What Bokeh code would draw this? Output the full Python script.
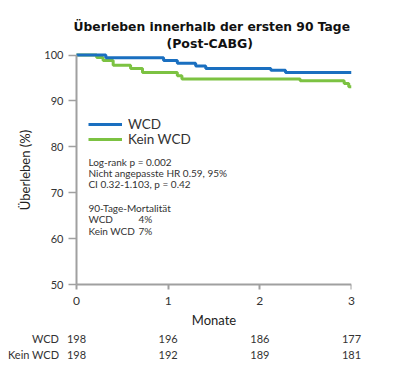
from bokeh.plotting import figure
from bokeh.models import Label, Legend, LegendItem, Range1d, FixedTicker, Title, LinearAxis
from bokeh.embed import file_html
from bokeh.resources import INLINE

# ---- data ----
wcd_t = [0, 0.32, 0.95, 1.10, 1.30, 1.41, 2.12, 2.28, 3.0]
wcd_s = [100, 99.4, 98.8, 98.2, 97.6, 97.1, 96.7, 96.2, 96.2]

kein_t = [0, 0.22, 0.29, 0.40, 0.59, 0.72, 1.10, 1.15, 2.44, 2.92, 2.97, 3.0]
kein_s = [100, 99.5, 98.8, 97.8, 97.1, 96.2, 95.5, 94.8, 94.4, 93.8, 93.1, 93.1]

x_ticks = [0, 1, 2, 3]
y_ticks = [50, 60, 70, 80, 90, 100]
x_title = "Monate"
risk_groups = ["WCD", "Kein WCD"]
risk_wcd = [198, 196, 186, 177]
risk_kein = [198, 192, 189, 181]

stats_lines = ["Log-rank p = 0.002", "Nicht angepasste HR 0.59, 95%", "CI 0.32-1.103, p = 0.42"]
mort_title = "90-Tage-Mortalität"
mort_groups = ["WCD", "Kein WCD"]
mort_values = ["4%", "7%"]

BLUE = "#1a6fc0"
GREEN = "#7cc242"
AXIS = "#a0a0a0"
TXT = "#333333"
FONT = "Lato"
TITLE_FONT = "DejaVu Sans"

PX_PER_MONTH = 275 / 3
LEFT = 12
X_MIN = -(76 - LEFT) / PX_PER_MONTH

p = figure(width=384, height=366, output_backend="svg", toolbar_location=None,
           x_range=Range1d(X_MIN, 3), y_range=Range1d(48.7, 101),
           min_border_left=LEFT, min_border_right=33, min_border_top=50, min_border_bottom=76)
p.outline_line_color = None
p.grid.visible = False

p.add_layout(Title(text="(Post-CABG)", align="left", offset=154, text_font=TITLE_FONT,
                   text_font_size="12.5px", text_font_style="bold", text_color="#111111",
                   standoff=0), "above")
p.add_layout(Title(text="Überleben innerhalb der ersten 90 Tage", align="left", offset=61,
                   text_font=TITLE_FONT, text_font_size="12.3px", text_font_style="bold",
                   text_color="#111111", standoff=0), "above")

r2 = p.step(kein_t, kein_s, mode="after", line_color=GREEN, line_width=3)
r1 = p.step(wcd_t, wcd_s, mode="after", line_color=BLUE, line_width=3)

# legend placement measured from the frame bottom (frame starts at 48.7)
leg_shift = round((50 - 48.7) * 4.589)
leg_common = dict(border_line_color=None, background_fill_alpha=0, padding=0, margin=0,
                  spacing=0, glyph_width=34, glyph_height=14, label_height=14,
                  label_standoff=6, label_text_font=FONT, label_text_font_size="13.5px",
                  label_text_color=TXT)
leg1 = Legend(items=[LegendItem(label="WCD", renderers=[r1])],
              location=(76, 152 + leg_shift), **leg_common)
leg2 = Legend(items=[LegendItem(label="Kein WCD", renderers=[r2])],
              location=(76, 137 + leg_shift), **leg_common)
p.add_layout(leg1, "center")
p.add_layout(leg2, "center")

# x axis line and ticks at 50 %
xa = p.xaxis[0]
xa.fixed_location = 50
xa.ticker = FixedTicker(ticks=x_ticks)
xa.bounds = (0, 3)
xa.axis_line_color = AXIS
xa.axis_line_width = 2
xa.major_tick_line_color = AXIS
xa.major_tick_line_width = 2
xa.major_tick_in = 0
xa.major_tick_out = 5
xa.minor_tick_line_color = None
xa.major_label_overrides = {t: "" for t in x_ticks}

# y axis sits at month 0
ya = p.yaxis[0]
ya.fixed_location = 0
ya.bounds = (50, 100)
ya.ticker = FixedTicker(ticks=y_ticks)
ya.axis_label = "Überleben (%)"
ya.axis_line_color = AXIS
ya.axis_line_width = 2
ya.major_tick_line_color = AXIS
ya.major_tick_line_width = 1.5
ya.major_tick_in = 0
ya.major_tick_out = 8
ya.minor_tick_line_color = None
ya.major_label_standoff = 5
ya.major_label_text_font = FONT
ya.major_label_text_font_size = "11px"
ya.major_label_text_color = TXT
ya.axis_label_text_font = FONT
ya.axis_label_text_font_size = "13px"
ya.axis_label_text_font_style = "normal"
ya.axis_label_text_color = "#222222"
ya.axis_label_standoff = 8


def text_axis(ticks, overrides, standoff, size, color):
    ax = LinearAxis(ticker=FixedTicker(ticks=ticks), axis_line_color=None,
                    major_tick_line_color=None, minor_tick_line_color=None,
                    major_tick_in=0, major_tick_out=0, major_label_standoff=standoff,
                    major_label_text_font=FONT, major_label_text_font_size=size,
                    major_label_text_color=color)
    if overrides:
        ax.major_label_overrides = overrides
    p.add_layout(ax, "below")
    return ax


# month tick labels, axis title, numbers at risk
text_axis([float(t) for t in x_ticks], None, 6, "12px", TXT)
mid = (x_ticks[0] + x_ticks[-1]) / 2
text_axis([mid], {mid: x_title}, 4, "13px", "#222222")

name_pos = [-0.339, -0.468]   # centre of each row name, left of month 0
standoffs = [1, 0]
for g, vals, npos, so in zip(risk_groups, [risk_wcd, risk_kein], name_pos, standoffs):
    overrides = {float(t): str(v) for t, v in zip(x_ticks, vals)}
    overrides[npos] = g
    text_axis([npos] + [float(t) for t in x_ticks], overrides, so, "11px", TXT)

# statistics text
x_txt = 0.13
fs = "10px"
stats_y = [76.8, 74.3, 71.8]
for s, yy in zip(stats_lines, stats_y):
    p.add_layout(Label(x=x_txt, y=yy, text=s, text_font=FONT, text_font_size=fs,
                       text_color=TXT, text_baseline="middle"))
mort_y = [66.7, 64.2, 61.75]
p.add_layout(Label(x=x_txt, y=mort_y[0], text=mort_title, text_font=FONT, text_font_size=fs,
                   text_color=TXT, text_baseline="middle"))
for g, v, yy in zip(mort_groups, mort_values, mort_y[1:]):
    p.add_layout(Label(x=x_txt, y=yy, text=g, text_font=FONT, text_font_size=fs,
                       text_color=TXT, text_baseline="middle"))
    p.add_layout(Label(x=0.675, y=yy, text=v, text_font=FONT, text_font_size=fs,
                       text_color=TXT, text_baseline="middle"))

open("out.html", "w").write(file_html(p, INLINE))
